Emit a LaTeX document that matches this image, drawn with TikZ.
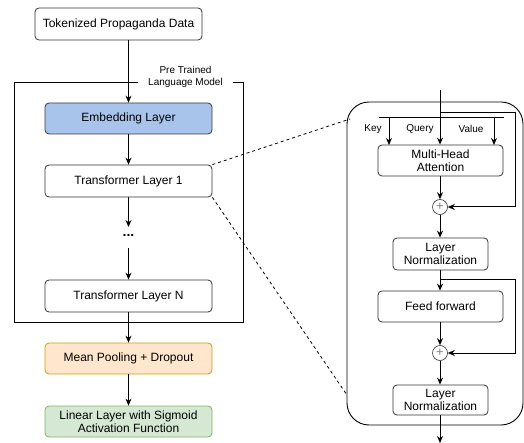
\documentclass[tikz,border=0pt]{standalone}
\usepackage{fontspec}
\setmainfont{Liberation Sans}
\usetikzlibrary{arrows.meta}
\definecolor{embfill}{HTML}{A9C4EB}
\definecolor{embline}{HTML}{36393D}
\definecolor{meanfill}{HTML}{FFE6CC}
\definecolor{meanline}{HTML}{D79B00}
\definecolor{linfill}{HTML}{D5E8D4}
\definecolor{linline}{HTML}{82B366}
\definecolor{boxline}{HTML}{333333}
\tikzset{
  box/.style={draw=boxline, line width=0.8pt, rounded corners=4pt, fill=white,
    align=center, inner sep=1pt, font=\fontsize{12}{13.5}\selectfont},
  lbl/.style={inner sep=0pt, align=center, font=\fontsize{10}{11.5}\selectfont},
  arr/.style={line width=1pt, -{Stealth[length=7pt,width=6pt]}},
  ln/.style={line width=1pt},
  dotl/.style={line width=0.8pt, dash pattern=on 3pt off 3pt},
  plus/.style={draw=boxline, circle, line width=0.6pt, minimum size=15pt, inner sep=0pt, fill=white}
}
\begin{document}
\begin{tikzpicture}[x=1pt,y=-1pt]
\useasboundingbox (0,0) rectangle (524,443);
% left column
\node[box, minimum width=167pt, minimum height=32pt] (tok) at (118.5,24) {Tokenized Propaganda Data};
\node[box, minimum width=167pt, minimum height=31pt, fill=embfill, draw=embline] (emb) at (128.5,118.5) {Embedding Layer};
\node[box, minimum width=167pt, minimum height=32pt] (tl1) at (128.5,181) {Transformer Layer 1};
\node[inner sep=0pt, font=\fontsize{14}{14}\selectfont\bfseries] (dots) at (128.5,235) {...};
\node[box, minimum width=167pt, minimum height=32pt] (tln) at (128.5,296) {Transformer Layer N};
\node[box, minimum width=167pt, minimum height=31pt, fill=meanfill, draw=meanline] (mean) at (128.5,358.5) {Mean Pooling + Dropout};
\node[box, minimum width=167pt, minimum height=31pt, fill=linfill, draw=linline] (lin) at (128.5,421.5) {Linear Layer with Sigmoid\\Activation Function};
% frame
\node[lbl] (plm) at (185.5,77) {Pre Trained\\Language Model};
\coordinate (fa) at (138,82);
\coordinate (fb) at (233,82);
\draw[line width=0.9pt] (fa) -- (14,82) -- (14,322) -- (243,322) -- (243,82) -- (fb);
% arrows left
\draw[arr] (tok.south -| emb.north) -- (emb.north);
\draw[arr] (emb) -- (tl1);
\draw[arr] (tl1.south) -- (128.5,227);
\draw[arr] (128.5,248) -- (tln.north);
\draw[arr] (tln) -- (mean);
\draw[arr] (mean) -- (lin);
% right panel
\draw[line width=0.9pt, rounded corners=22pt] (347,102) rectangle (523,425);
\node[box, minimum width=125pt, minimum height=31pt] (mha) at (440.5,160.5) {Multi-Head\\Attention};
\node[plus] (p1) at (440,207) {\fontsize{13}{13}\selectfont\color{gray}+};
\node[box, minimum width=95pt, minimum height=32pt] (ln1) at (440.5,254) {Layer\\Normalization};
\node[box, minimum width=125pt, minimum height=31pt] (ff) at (440.5,306.5) {Feed forward};
\node[plus] (p2) at (440,353) {\fontsize{13}{13}\selectfont\color{gray}+};
\node[box, minimum width=95pt, minimum height=30pt] (ln2) at (440.5,400) {Layer\\Normalization};
\coordinate (in) at (440,90);
\coordinate (out) at (440,443);
\coordinate (kvl) at (379,118);
\coordinate (kvr) at (504,118);
\draw[ln] (kvl) -- (kvr);
\draw[arr] (389,118) -- (389,145);
\draw[arr] (494,118) -- (494,145);
\draw[arr] (in) -- (mha.north -| in);
\node[lbl] (key) at (373,129) {Key};
\node[lbl] (query) at (420,129) {Query};
\node[lbl] (value) at (471,129) {Value};
\draw[arr] (440,113) -- (515,113) -- (515,207) -- (p1.east);
\draw[arr] (mha.south -| p1) -- (p1.north);
\draw[arr] (p1.south) -- (ln1.north -| p1);
\draw[arr] (ln1.south -| p1) -- (ff.north -| p1);
\draw[arr] (440,280) -- (515,280) -- (515,353) -- (p2.east);
\draw[arr] (ff.south -| p2) -- (p2.north);
\draw[arr] (p2.south) -- (ln2.north -| p2);
\draw[arr] (ln2.south -| p2) -- (out);
% zoom lines
\coordinate (z1) at (350,119);
\coordinate (z2) at (347,395);
\draw[dotl] (tl1.north east) -- (z1);
\draw[dotl] (tl1.south east) -- (z2);
\end{tikzpicture}
\end{document}
